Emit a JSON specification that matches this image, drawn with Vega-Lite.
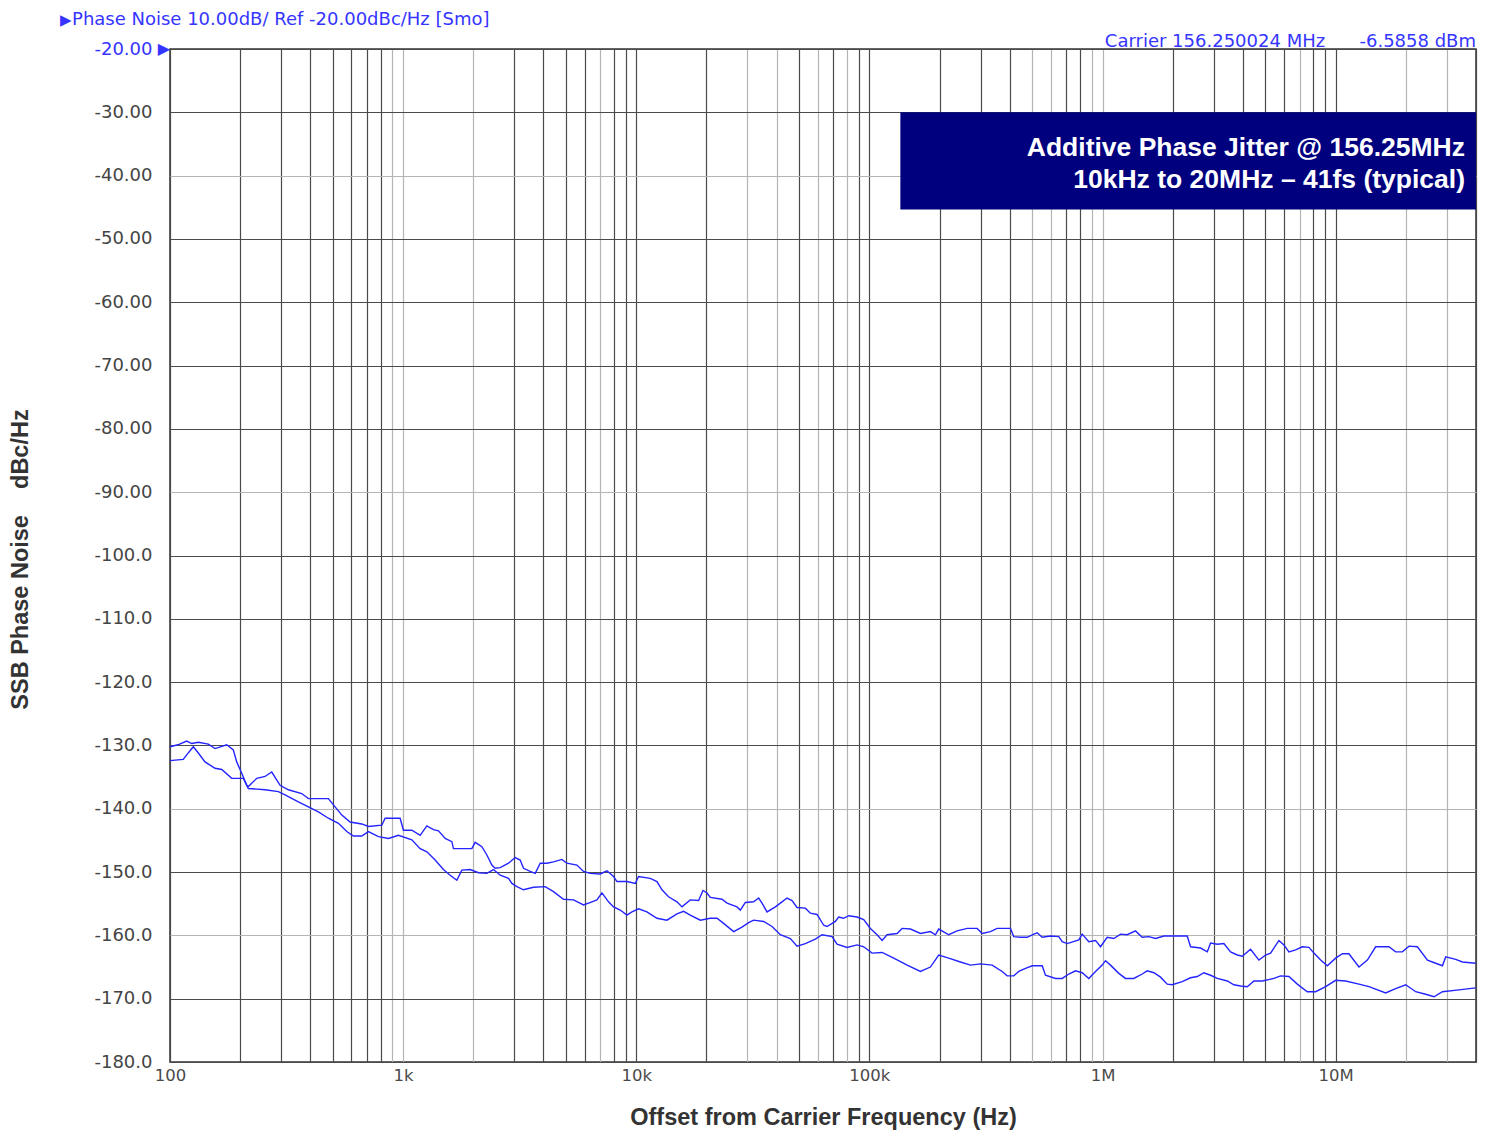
{
  "$schema": "https://vega.github.io/schema/vega-lite/v6.json",
  "width": 1306,
  "height": 1013,
  "autosize": {"type": "none"},
  "padding": {"left": 170, "top": 49, "right": 15, "bottom": 69},
  "background": "white",
  "config": {"view": {"stroke": "#333333", "strokeWidth": 1.5}},
  "datasets": {
    "noise": [
      {"f":100,"db":-130.2,"t":"a"},{"f":108.2,"db":-129.9,"t":"a"},{"f":117.9,"db":-129.3,"t":"a"},{"f":123.9,"db":-129.7,"t":"a"},{"f":132.3,"db":-129.5,"t":"a"},{"f":146,"db":-129.8,"t":"a"},{"f":156,"db":-130.5,"t":"a"},{"f":175.1,"db":-129.9,"t":"a"},{"f":186.9,"db":-130.7,"t":"a"},{"f":193.3,"db":-132.6,"t":"a"},{"f":203.1,"db":-134.4,"t":"a"},{"f":213.4,"db":-136.3,"t":"a"},{"f":216.8,"db":-136.5,"t":"a"},{"f":235.6,"db":-135.2,"t":"a"},{"f":255.7,"db":-134.9,"t":"a"},{"f":273.2,"db":-134.2,"t":"a"},{"f":296.6,"db":-136.3,"t":"a"},{"f":321.9,"db":-137.0,"t":"a"},{"f":367.4,"db":-137.6,"t":"a"},{"f":392.3,"db":-138.4,"t":"a"},{"f":477.9,"db":-138.4,"t":"a"},{"f":510.8,"db":-139.7,"t":"a"},{"f":545.7,"db":-141.0,"t":"a"},{"f":592.3,"db":-142.1,"t":"a"},{"f":664.7,"db":-142.4,"t":"a"},{"f":709.7,"db":-142.8,"t":"a"},{"f":810.2,"db":-142.6,"t":"a"},{"f":836.9,"db":-141.5,"t":"a"},{"f":970.7,"db":-141.5,"t":"a"},{"f":1003,"db":-143.4,"t":"a"},{"f":1090,"db":-143.4,"t":"a"},{"f":1183,"db":-144.2,"t":"a"},{"f":1264,"db":-142.7,"t":"a"},{"f":1349,"db":-143.3,"t":"a"},{"f":1418,"db":-143.5,"t":"a"},{"f":1515,"db":-144.7,"t":"a"},{"f":1618,"db":-145.2,"t":"a"},{"f":1644,"db":-146.3,"t":"a"},{"f":1971,"db":-146.3,"t":"a"},{"f":2037,"db":-145.3,"t":"a"},{"f":2177,"db":-146.0,"t":"a"},{"f":2287,"db":-147.3,"t":"a"},{"f":2403,"db":-148.9,"t":"a"},{"f":2482,"db":-149.4,"t":"a"},{"f":2609,"db":-149.3,"t":"a"},{"f":2831,"db":-148.6,"t":"a"},{"f":3025,"db":-147.7,"t":"a"},{"f":3178,"db":-148.1,"t":"a"},{"f":3283,"db":-149.4,"t":"a"},{"f":3508,"db":-149.9,"t":"a"},{"f":3686,"db":-150.2,"t":"a"},{"f":3873,"db":-148.6,"t":"a"},{"f":4138,"db":-148.6,"t":"a"},{"f":4416,"db":-148.4,"t":"a"},{"f":4799,"db":-148.0,"t":"a"},{"f":5042,"db":-148.6,"t":"a"},{"f":5566,"db":-148.9,"t":"a"},{"f":5940,"db":-149.9,"t":"a"},{"f":6346,"db":-150.2,"t":"a"},{"f":7005,"db":-150.3,"t":"a"},{"f":7485,"db":-149.8,"t":"a"},{"f":7991,"db":-150.7,"t":"a"},{"f":8264,"db":-151.5,"t":"a"},{"f":9120,"db":-151.5,"t":"a"},{"f":9901,"db":-151.8,"t":"a"},{"f":10230,"db":-150.7,"t":"a"},{"f":11480,"db":-151.0,"t":"a"},{"f":12270,"db":-151.5,"t":"a"},{"f":12890,"db":-152.8,"t":"a"},{"f":13760,"db":-153.9,"t":"a"},{"f":14950,"db":-154.7,"t":"a"},{"f":15710,"db":-155.5,"t":"a"},{"f":17050,"db":-154.4,"t":"a"},{"f":18510,"db":-154.5,"t":"a"},{"f":19330,"db":-152.9,"t":"a"},{"f":20110,"db":-153.3,"t":"a"},{"f":20780,"db":-154.0,"t":"a"},{"f":23320,"db":-154.3,"t":"a"},{"f":24510,"db":-154.9,"t":"a"},{"f":27050,"db":-155.5,"t":"a"},{"f":27950,"db":-156.0,"t":"a"},{"f":29370,"db":-154.8,"t":"a"},{"f":31870,"db":-154.7,"t":"a"},{"f":33490,"db":-154.1,"t":"a"},{"f":34640,"db":-154.9,"t":"a"},{"f":36380,"db":-156.3,"t":"a"},{"f":39510,"db":-155.5,"t":"a"},{"f":41500,"db":-154.9,"t":"a"},{"f":44350,"db":-154.1,"t":"a"},{"f":46580,"db":-154.5,"t":"a"},{"f":48950,"db":-155.6,"t":"a"},{"f":53130,"db":-155.7,"t":"a"},{"f":55830,"db":-156.5,"t":"a"},{"f":59640,"db":-156.7,"t":"a"},{"f":63670,"db":-158.4,"t":"a"},{"f":65850,"db":-158.6,"t":"a"},{"f":71450,"db":-157.8,"t":"a"},{"f":73810,"db":-157.1,"t":"a"},{"f":77560,"db":-157.3,"t":"a"},{"f":81500,"db":-156.9,"t":"a"},{"f":88550,"db":-157.1,"t":"a"},{"f":94520,"db":-157.5,"t":"a"},{"f":101000,"db":-158.9,"t":"a"},{"f":107900,"db":-159.9,"t":"a"},{"f":113400,"db":-160.8,"t":"a"},{"f":119100,"db":-159.9,"t":"a"},{"f":131500,"db":-159.7,"t":"a"},{"f":138100,"db":-158.9,"t":"a"},{"f":150000,"db":-159.0,"t":"a"},{"f":165600,"db":-159.7,"t":"a"},{"f":182700,"db":-159.4,"t":"a"},{"f":192000,"db":-159.9,"t":"a"},{"f":198400,"db":-159.0,"t":"a"},{"f":218900,"db":-159.9,"t":"a"},{"f":237900,"db":-159.3,"t":"a"},{"f":262700,"db":-158.9,"t":"a"},{"f":289900,"db":-158.9,"t":"a"},{"f":304600,"db":-159.7,"t":"a"},{"f":330700,"db":-159.4,"t":"a"},{"f":353200,"db":-158.9,"t":"a"},{"f":402900,"db":-158.9,"t":"a"},{"f":416200,"db":-160.2,"t":"a"},{"f":444700,"db":-160.3,"t":"a"},{"f":475100,"db":-160.3,"t":"a"},{"f":507300,"db":-159.8,"t":"a"},{"f":524500,"db":-159.6,"t":"a"},{"f":551100,"db":-160.3,"t":"a"},{"f":598300,"db":-160.1,"t":"a"},{"f":649300,"db":-160.2,"t":"a"},{"f":671500,"db":-161.0,"t":"a"},{"f":705500,"db":-161.3,"t":"a"},{"f":791200,"db":-160.7,"t":"a"},{"f":818200,"db":-159.8,"t":"a"},{"f":873500,"db":-161.0,"t":"a"},{"f":933300,"db":-160.8,"t":"a"},{"f":980400,"db":-161.8,"t":"a"},{"f":1047000,"db":-160.3,"t":"a"},{"f":1118000,"db":-160.5,"t":"a"},{"f":1195000,"db":-159.8,"t":"a"},{"f":1276000,"db":-159.9,"t":"a"},{"f":1385000,"db":-159.3,"t":"a"},{"f":1480000,"db":-160.3,"t":"a"},{"f":1580000,"db":-160.2,"t":"a"},{"f":1689000,"db":-160.5,"t":"a"},{"f":1833000,"db":-160.1,"t":"a"},{"f":2309000,"db":-160.1,"t":"a"},{"f":2386000,"db":-161.8,"t":"a"},{"f":2634000,"db":-162.0,"t":"a"},{"f":2815000,"db":-162.6,"t":"a"},{"f":2908000,"db":-161.2,"t":"a"},{"f":3107000,"db":-161.4,"t":"a"},{"f":3316000,"db":-161.3,"t":"a"},{"f":3543000,"db":-162.6,"t":"a"},{"f":3786000,"db":-163.1,"t":"a"},{"f":3977000,"db":-163.3,"t":"a"},{"f":4317000,"db":-162.2,"t":"a"},{"f":4686000,"db":-163.9,"t":"a"},{"f":5008000,"db":-163.1,"t":"a"},{"f":5260000,"db":-162.8,"t":"a"},{"f":5710000,"db":-160.8,"t":"a"},{"f":5999000,"db":-161.5,"t":"a"},{"f":6304000,"db":-162.6,"t":"a"},{"f":6735000,"db":-162.3,"t":"a"},{"f":7195000,"db":-161.8,"t":"a"},{"f":7680000,"db":-161.9,"t":"a"},{"f":8071000,"db":-162.8,"t":"a"},{"f":8623000,"db":-163.9,"t":"a"},{"f":9213000,"db":-164.8,"t":"a"},{"f":10000000,"db":-163.6,"t":"a"},{"f":10690000,"db":-162.9,"t":"a"},{"f":11400000,"db":-162.9,"t":"a"},{"f":12590000,"db":-165.0,"t":"a"},{"f":13680000,"db":-163.9,"t":"a"},{"f":14850000,"db":-161.8,"t":"a"},{"f":16930000,"db":-161.8,"t":"a"},{"f":18090000,"db":-162.6,"t":"a"},{"f":19330000,"db":-162.6,"t":"a"},{"f":20640000,"db":-161.7,"t":"a"},{"f":22420000,"db":-161.8,"t":"a"},{"f":24760000,"db":-163.9,"t":"a"},{"f":26870000,"db":-164.4,"t":"a"},{"f":28710000,"db":-164.8,"t":"a"},{"f":29660000,"db":-163.4,"t":"a"},{"f":32730000,"db":-163.8,"t":"a"},{"f":34980000,"db":-164.2,"t":"a"},{"f":39900000,"db":-164.4,"t":"a"},
      {"f":100,"db":-132.4,"t":"b"},{"f":114.0,"db":-132.2,"t":"b"},{"f":117.9,"db":-131.5,"t":"b"},{"f":125.9,"db":-130.2,"t":"b"},{"f":132.3,"db":-131.2,"t":"b"},{"f":141.3,"db":-132.6,"t":"b"},{"f":148.5,"db":-133.1,"t":"b"},{"f":156.0,"db":-133.6,"t":"b"},{"f":166.7,"db":-133.8,"t":"b"},{"f":184.0,"db":-135.2,"t":"b"},{"f":206.4,"db":-135.2,"t":"b"},{"f":216.8,"db":-136.8,"t":"b"},{"f":255.7,"db":-137.0,"t":"b"},{"f":291.6,"db":-137.3,"t":"b"},{"f":311.6,"db":-137.8,"t":"b"},{"f":355.3,"db":-138.9,"t":"b"},{"f":392.3,"db":-139.7,"t":"b"},{"f":433.0,"db":-140.5,"t":"b"},{"f":477.9,"db":-141.5,"t":"b"},{"f":527.8,"db":-142.3,"t":"b"},{"f":573.4,"db":-143.6,"t":"b"},{"f":611.9,"db":-144.3,"t":"b"},{"f":664.7,"db":-144.3,"t":"b"},{"f":709.7,"db":-143.6,"t":"b"},{"f":783.4,"db":-144.4,"t":"b"},{"f":864.9,"db":-144.7,"t":"b"},{"f":954.6,"db":-144.2,"t":"b"},{"f":1090,"db":-144.9,"t":"b"},{"f":1183,"db":-146.3,"t":"b"},{"f":1264,"db":-146.8,"t":"b"},{"f":1372,"db":-148.1,"t":"b"},{"f":1489,"db":-149.6,"t":"b"},{"f":1591,"db":-150.5,"t":"b"},{"f":1700,"db":-151.3,"t":"b"},{"f":1786,"db":-149.7,"t":"b"},{"f":1939,"db":-149.6,"t":"b"},{"f":2105,"db":-150.1,"t":"b"},{"f":2287,"db":-150.2,"t":"b"},{"f":2441,"db":-149.6,"t":"b"},{"f":2609,"db":-150.5,"t":"b"},{"f":2831,"db":-151.0,"t":"b"},{"f":2928,"db":-151.8,"t":"b"},{"f":3076,"db":-152.3,"t":"b"},{"f":3283,"db":-152.8,"t":"b"},{"f":3624,"db":-152.4,"t":"b"},{"f":4068,"db":-152.3,"t":"b"},{"f":4416,"db":-153.1,"t":"b"},{"f":4875,"db":-154.3,"t":"b"},{"f":5383,"db":-154.4,"t":"b"},{"f":5940,"db":-155.2,"t":"b"},{"f":6454,"db":-154.7,"t":"b"},{"f":6781,"db":-154.4,"t":"b"},{"f":7126,"db":-153.3,"t":"b"},{"f":7605,"db":-154.7,"t":"b"},{"f":7991,"db":-155.5,"t":"b"},{"f":8537,"db":-156.0,"t":"b"},{"f":9120,"db":-156.8,"t":"b"},{"f":9584,"db":-156.3,"t":"b"},{"f":10230,"db":-155.8,"t":"b"},{"f":11110,"db":-156.3,"t":"b"},{"f":12270,"db":-157.3,"t":"b"},{"f":13540,"db":-157.6,"t":"b"},{"f":14950,"db":-156.6,"t":"b"},{"f":15960,"db":-156.2,"t":"b"},{"f":17050,"db":-156.8,"t":"b"},{"f":18830,"db":-157.6,"t":"b"},{"f":20780,"db":-157.3,"t":"b"},{"f":22200,"db":-157.3,"t":"b"},{"f":23700,"db":-158.1,"t":"b"},{"f":26160,"db":-159.4,"t":"b"},{"f":28410,"db":-158.7,"t":"b"},{"f":30340,"db":-158.0,"t":"b"},{"f":31870,"db":-157.6,"t":"b"},{"f":35190,"db":-157.8,"t":"b"},{"f":38230,"db":-158.6,"t":"b"},{"f":41500,"db":-159.9,"t":"b"},{"f":45810,"db":-160.5,"t":"b"},{"f":48950,"db":-161.7,"t":"b"},{"f":53130,"db":-161.3,"t":"b"},{"f":58650,"db":-160.6,"t":"b"},{"f":62660,"db":-159.9,"t":"b"},{"f":69170,"db":-160.2,"t":"b"},{"f":72650,"db":-161.4,"t":"b"},{"f":80220,"db":-161.9,"t":"b"},{"f":88550,"db":-161.5,"t":"b"},{"f":94520,"db":-161.8,"t":"b"},{"f":102700,"db":-162.8,"t":"b"},{"f":113400,"db":-162.7,"t":"b"},{"f":127200,"db":-163.6,"t":"b"},{"f":145200,"db":-164.7,"t":"b"},{"f":165600,"db":-165.7,"t":"b"},{"f":182700,"db":-165.0,"t":"b"},{"f":198400,"db":-163.1,"t":"b"},{"f":218900,"db":-163.6,"t":"b"},{"f":245800,"db":-164.2,"t":"b"},{"f":271400,"db":-164.7,"t":"b"},{"f":299500,"db":-164.5,"t":"b"},{"f":336300,"db":-164.7,"t":"b"},{"f":371200,"db":-165.7,"t":"b"},{"f":389900,"db":-166.4,"t":"b"},{"f":416200,"db":-166.4,"t":"b"},{"f":437300,"db":-165.7,"t":"b"},{"f":467300,"db":-165.2,"t":"b"},{"f":499300,"db":-164.8,"t":"b"},{"f":551100,"db":-164.8,"t":"b"},{"f":569400,"db":-166.3,"t":"b"},{"f":628500,"db":-166.8,"t":"b"},{"f":671500,"db":-166.8,"t":"b"},{"f":716800,"db":-166.1,"t":"b"},{"f":765800,"db":-165.6,"t":"b"},{"f":818200,"db":-165.9,"t":"b"},{"f":873500,"db":-166.8,"t":"b"},{"f":933300,"db":-165.7,"t":"b"},{"f":997000,"db":-164.7,"t":"b"},{"f":1030000,"db":-164.0,"t":"b"},{"f":1082000,"db":-164.7,"t":"b"},{"f":1175000,"db":-166.0,"t":"b"},{"f":1255000,"db":-166.8,"t":"b"},{"f":1362000,"db":-166.8,"t":"b"},{"f":1480000,"db":-166.1,"t":"b"},{"f":1555000,"db":-165.6,"t":"b"},{"f":1661000,"db":-165.9,"t":"b"},{"f":1774000,"db":-166.6,"t":"b"},{"f":1895000,"db":-167.7,"t":"b"},{"f":1991000,"db":-167.8,"t":"b"},{"f":2198000,"db":-167.3,"t":"b"},{"f":2386000,"db":-166.7,"t":"b"},{"f":2549000,"db":-166.5,"t":"b"},{"f":2722000,"db":-165.9,"t":"b"},{"f":2908000,"db":-166.3,"t":"b"},{"f":3107000,"db":-166.8,"t":"b"},{"f":3430000,"db":-167.2,"t":"b"},{"f":3660000,"db":-167.8,"t":"b"},{"f":3912000,"db":-168.0,"t":"b"},{"f":4178000,"db":-168.1,"t":"b"},{"f":4460000,"db":-167.2,"t":"b"},{"f":4847000,"db":-167.2,"t":"b"},{"f":5435000,"db":-166.8,"t":"b"},{"f":5806000,"db":-166.4,"t":"b"},{"f":6304000,"db":-166.5,"t":"b"},{"f":6848000,"db":-167.7,"t":"b"},{"f":7558000,"db":-168.9,"t":"b"},{"f":8208000,"db":-168.9,"t":"b"},{"f":9060000,"db":-168.1,"t":"b"},{"f":10000000,"db":-167.1,"t":"b"},{"f":11040000,"db":-167.2,"t":"b"},{"f":12590000,"db":-167.7,"t":"b"},{"f":13900000,"db":-168.1,"t":"b"},{"f":16390000,"db":-169.1,"t":"b"},{"f":18090000,"db":-168.4,"t":"b"},{"f":19980000,"db":-167.8,"t":"b"},{"f":22050000,"db":-168.9,"t":"b"},{"f":24340000,"db":-169.3,"t":"b"},{"f":26420000,"db":-169.7,"t":"b"},{"f":28710000,"db":-168.9,"t":"b"},{"f":33820000,"db":-168.6,"t":"b"},{"f":39900000,"db":-168.3,"t":"b"}
    ],
    "notes": [
      {"kind": "box", "x": 135800, "x2": 40000000, "y": -30, "y2": -45.35},
      {"kind": "line1", "x": 40000000, "y": -35.6, "label": "Additive Phase Jitter @ 156.25MHz"},
      {"kind": "line2", "x": 40000000, "y": -40.7, "label": "10kHz to 20MHz \u2013 41fs (typical)"},
      {"kind": "head", "x": 38.0, "y": -15.42, "label": "Phase Noise 10.00dB/ Ref -20.00dBc/Hz [Smo]"},
      {"kind": "headtri", "x": 34.4, "y": -15.42, "label": "\u25b6"},
      {"kind": "reftri", "x": 100, "y": -20, "label": "\u25b6"},
      {"kind": "carrier", "x": 40000000, "y": -20, "label": "Carrier 156.250024 MHz\u00a0\u00a0\u00a0\u00a0\u00a0\u00a0-6.5858 dBm"}
    ]
  },
  "encoding": {
    "x": {"field": "x", "type": "quantitative", "scale": {"type": "log", "domain": [100, 40000000], "nice": false}},
    "y": {"field": "y", "type": "quantitative", "scale": {"domain": [-180, -20], "nice": false, "zero": false}}
  },
  "layer": [
    {
      "data": {"name": "noise"},
      "mark": {"type": "line", "color": "#2424ff", "strokeWidth": 1.4, "interpolate": "linear"},
      "encoding": {
        "x": {
          "field": "f", "type": "quantitative",
          "scale": {"type": "log", "domain": [100, 40000000], "nice": false},
          "axis": {
            "values": [100,200,300,400,500,600,700,800,900,1000,2000,3000,4000,5000,6000,7000,8000,9000,10000,20000,30000,40000,50000,60000,70000,80000,90000,100000,200000,300000,400000,500000,600000,700000,800000,900000,1000000,2000000,3000000,4000000,5000000,6000000,7000000,8000000,9000000,10000000,20000000,30000000,40000000],
            "labelExpr": "datum.value == 100 ? '100' : datum.value == 1000 ? '1k' : datum.value == 10000 ? '10k' : datum.value == 100000 ? '100k' : datum.value == 1000000 ? '1M' : datum.value == 10000000 ? '10M' : ''",
            "title": "Offset from Carrier Frequency (Hz)",
            "titleFont": "Liberation Sans", "titleFontWeight": "bold", "titleFontSize": 23.5, "titleColor": "#333333",
            "titleX": 653, "titleY": 55, "titleBaseline": "middle", "titleAlign": "center",
            "labelFont": "DejaVu Sans", "labelFontSize": 16.5, "labelColor": "#4a4a4a",
            "labelPadding": 5, "labelFlush": false, "labelOverlap": false, "labelBound": false,
            "ticks": false, "domain": false, "grid": true,
            "gridColor": {"condition": {"test": "indexof([900,1000,2000,7000,30000,40000,60000,80000,500000,600000,900000,1000000,7000000,20000000,30000000], datum.value) >= 0", "value": "#b4b4b4"}, "value": "#4a4a4a"},
            "gridWidth": 1.2
          }
        },
        "y": {
          "field": "db", "type": "quantitative",
          "scale": {"domain": [-180, -20], "nice": false, "zero": false},
          "axis": {
            "values": [-180,-170,-160,-150,-140,-130,-120,-110,-100,-90,-80,-70,-60,-50,-40,-30,-20],
            "labelExpr": "(datum.value < 0 ? '-' : '') + format(abs(datum.value), datum.value > -100 ? '.2f' : '.1f')",
            "title": "SSB Phase Noise\u00a0\u00a0\u00a0\u00a0dBc/Hz",
            "titleFont": "Liberation Sans", "titleFontWeight": "bold", "titleFontSize": 23.5, "titleColor": "#333333",
            "titleX": -150, "titleY": 510, "titleBaseline": "middle", "titleAlign": "center", "titleAngle": 270,
            "labelFont": "DejaVu Sans", "labelFontSize": 18,
            "labelColor": {"condition": {"test": "datum.value == -20", "value": "#3535ff"}, "value": "#444444"},
            "labelPadding": 18, "labelOverlap": false, "labelBound": false, "labelFlush": false,
            "ticks": false, "domain": false, "grid": true,
            "gridColor": {"condition": {"test": "indexof([-40,-90,-140,-160], datum.value) >= 0", "value": "#b4b4b4"}, "value": "#4a4a4a"},
            "gridWidth": 1.2
          }
        },
        "detail": {"field": "t", "type": "nominal"}
      }
    },
    {
      "data": {"name": "notes"},
      "transform": [{"filter": "datum.kind == 'box'"}],
      "mark": {"type": "rect", "color": "#00007f"},
      "encoding": {"x2": {"field": "x2"}, "y2": {"field": "y2"}}
    },
    {
      "data": {"name": "notes"},
      "transform": [{"filter": "datum.kind == 'line1' || datum.kind == 'line2'"}],
      "mark": {"type": "text", "font": "Liberation Sans", "fontWeight": "bold", "fontSize": 26.5, "color": "#ffffff", "align": "right", "baseline": "middle", "dx": -11},
      "encoding": {"text": {"field": "label"}}
    },
    {
      "data": {"name": "notes"},
      "transform": [{"filter": "datum.kind == 'head'"}],
      "mark": {"type": "text", "font": "DejaVu Sans", "fontSize": 18, "color": "#3535ff", "align": "left", "baseline": "middle"},
      "encoding": {"text": {"field": "label"}}
    },
    {
      "data": {"name": "notes"},
      "transform": [{"filter": "datum.kind == 'headtri'"}],
      "mark": {"type": "text", "font": "DejaVu Sans", "fontSize": 15, "color": "#3535ff", "align": "left", "baseline": "middle", "dx": -2},
      "encoding": {"text": {"field": "label"}}
    },
    {
      "data": {"name": "notes"},
      "transform": [{"filter": "datum.kind == 'reftri'"}],
      "mark": {"type": "text", "font": "DejaVu Sans", "fontSize": 16, "color": "#3535ff", "align": "right", "baseline": "middle"},
      "encoding": {"text": {"field": "label"}}
    },
    {
      "data": {"name": "notes"},
      "transform": [{"filter": "datum.kind == 'carrier'"}],
      "mark": {"type": "text", "font": "DejaVu Sans", "fontSize": 18, "color": "#3535ff", "align": "right", "baseline": "alphabetic", "dy": -2},
      "encoding": {"text": {"field": "label"}}
    }
  ]
}
